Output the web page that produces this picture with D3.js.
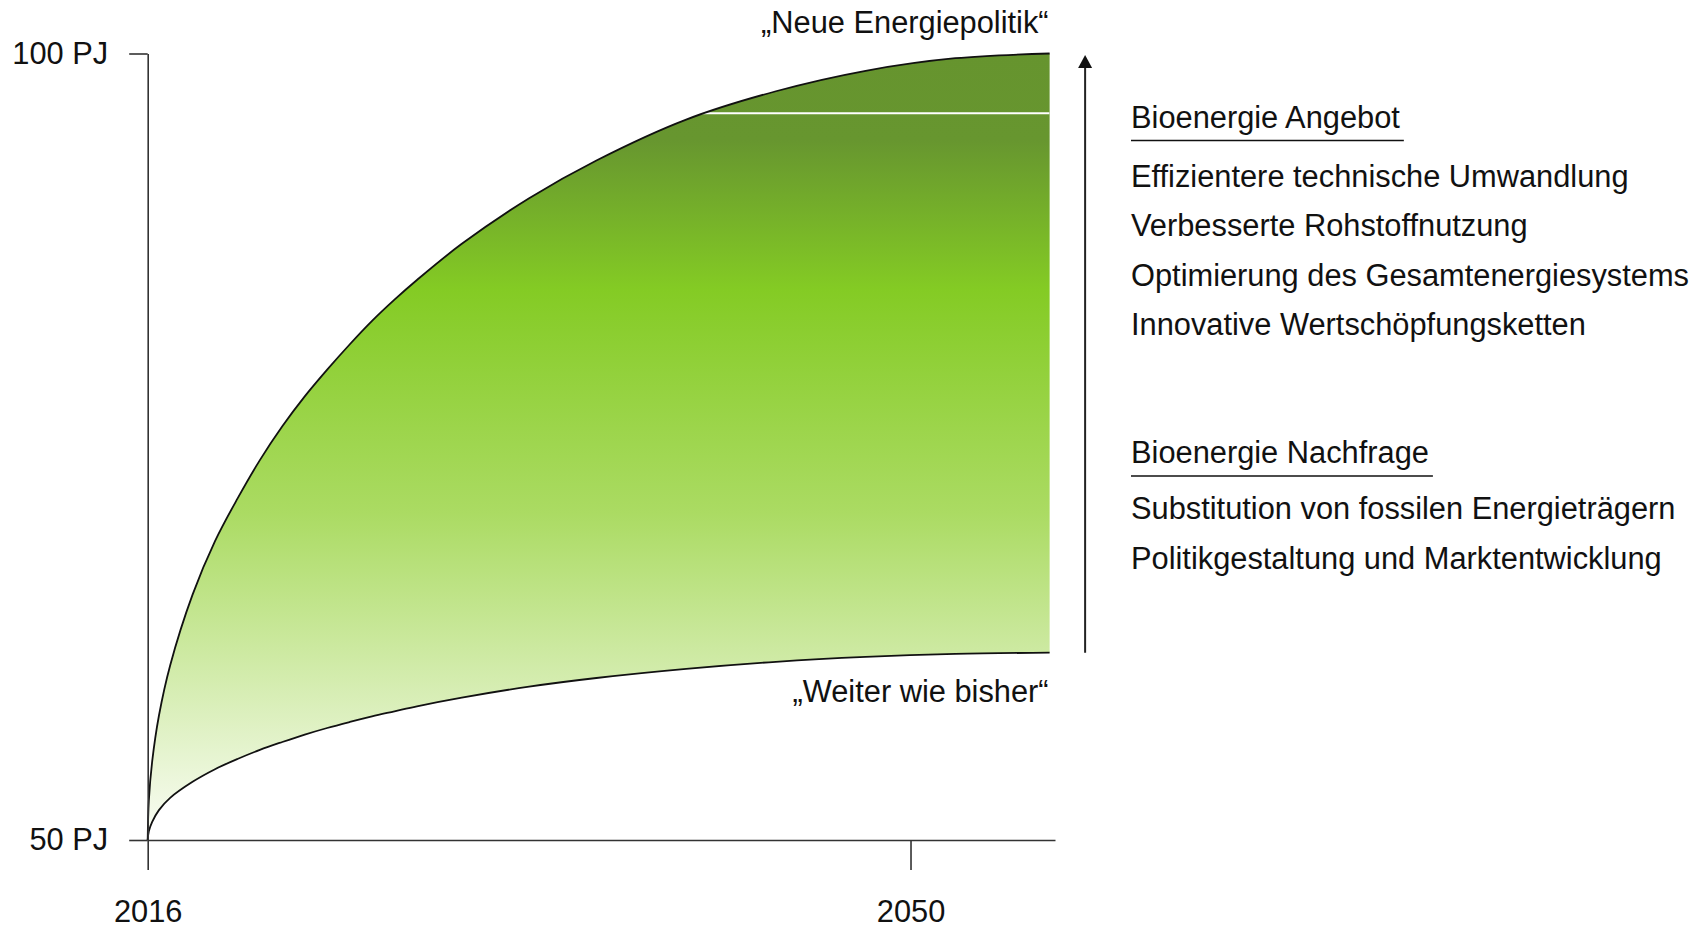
<!DOCTYPE html>
<html>
<head>
<meta charset="utf-8">
<script src="https://cdn.jsdelivr.net/npm/d3@7"></script>
<style>
  html, body { margin: 0; padding: 0; background: #fff; }
  svg { display: block; font-family: "Liberation Sans", Arial, sans-serif; }
</style>
</head>
<body>
<div id="chart"></div>
<script>
// Scenario corridor, values (year -> PJ)
const years = [2016, 2016.05, 2016.2, 2016.5, 2017, 2018, 2019, 2020, 2021, 2022, 2023, 2024,
               2025, 2026, 2027, 2028, 2030, 2033, 2036, 2040, 2044, 2048, 2052, 2056.2];
const neueEnergiepolitik = [50, 52.5, 55.0, 57.9, 61.1, 65.6, 69.0, 71.7, 74.15, 76.3, 78.2, 79.9,
                            81.5, 83.0, 84.35, 85.6, 87.9, 90.8, 93.2, 95.8, 97.6, 98.9, 99.7, 100];
const weiterWieBisher = [50, 50.55, 51.15, 51.9, 52.68, 53.7, 54.5, 55.15, 55.73, 56.23, 56.7, 57.12,
                         57.5, 57.86, 58.18, 58.5, 59.05, 59.75, 60.3, 60.88, 61.33, 61.64, 61.83, 61.91];

const yearTicks = [2016, 2050];
const pjTicks = [50, 100];
const dividerLevel = 96.2;   // thin white line near the top of the band

const angebotTitle = 'Bioenergie Angebot';
const angebotItems = [
  'Effizientere technische Umwandlung',
  'Verbesserte Rohstoffnutzung',
  'Optimierung des Gesamtenergiesystems',
  'Innovative Wertschöpfungsketten'
];
const nachfrageTitle = 'Bioenergie Nachfrage';
const nachfrageItems = [
  'Substitution von fossilen Energieträgern',
  'Politikgestaltung und Marktentwicklung'
];

const width = 1697;
const height = 928;
const fontSize = 30.8;
const ink = '#111';
const axisInk = '#333';

const svg = d3.select('#chart')
  .append('svg')
  .attr('width', width)
  .attr('height', height);

const x = d3.scaleLinear().domain([2016, 2056.44]).range([147.7, 1055]);
const y = d3.scaleLinear().domain([50, 100]).range([840, 53.5]);

const idx = d3.range(years.length);
const endYear = years[years.length - 1];
const curve = d3.curveCatmullRom.alpha(0.5);

// vertical gradient: olive on top, bright green, fading to white
const defs = svg.append('defs');
const grad = defs.append('linearGradient')
  .attr('id', 'bioGrad')
  .attr('gradientUnits', 'userSpaceOnUse')
  .attr('x1', 0).attr('x2', 0)
  .attr('y1', y(100)).attr('y2', y(50));
[
  [0, '#66942e'],
  [0.11, '#67962f'],
  [0.30, '#84cb24'],
  [0.585, '#abdb63'],
  [1, '#fbfdf7']
].forEach(([o, c]) => grad.append('stop').attr('offset', o).attr('stop-color', c));

const area = d3.area()
  .x(i => x(years[i]))
  .y0(i => y(weiterWieBisher[i]))
  .y1(i => y(neueEnergiepolitik[i]))
  .curve(curve);

defs.append('clipPath')
  .attr('id', 'bandClip')
  .append('path')
  .attr('d', area(idx));

svg.append('path')
  .attr('d', area(idx))
  .attr('fill', 'url(#bioGrad)');

// white divider inside the band
svg.append('line')
  .attr('clip-path', 'url(#bandClip)')
  .attr('x1', x(2016)).attr('x2', x(endYear))
  .attr('y1', y(dividerLevel)).attr('y2', y(dividerLevel))
  .attr('stroke', '#fff')
  .attr('stroke-width', 2);

// scenario outlines
const lineOf = series => d3.line()
  .x(i => x(years[i]))
  .y(i => y(series[i]))
  .curve(curve)(idx);

[neueEnergiepolitik, weiterWieBisher].forEach(s => {
  svg.append('path')
    .attr('d', lineOf(s))
    .attr('fill', 'none')
    .attr('stroke', ink)
    .attr('stroke-width', 1.8)
    .attr('stroke-linejoin', 'round');
});

// axes
const xAxis = d3.axisBottom(x)
  .tickValues(yearTicks)
  .tickFormat(d3.format('d'))
  .tickSize(30)
  .tickSizeOuter(0)
  .tickPadding(30.5);

const yAxis = d3.axisLeft(y)
  .tickValues(pjTicks)
  .tickFormat(d => `${d} PJ`)
  .tickSize(18.5)
  .tickSizeOuter(0)
  .tickPadding(21);

function styleAxis(g) {
  g.attr('font-family', null).attr('font-size', null);
  g.selectAll('path, line').attr('stroke', axisInk).attr('stroke-width', 1.6);
  g.selectAll('text').attr('fill', ink).style('font-size', fontSize + 'px');
}

svg.append('g')
  .attr('transform', `translate(0,${y(50)})`)
  .call(xAxis)
  .call(styleAxis);

svg.append('g')
  .attr('transform', `translate(${x(2016)},0)`)
  .call(yAxis)
  .call(styleAxis);

// scenario labels
svg.append('text')
  .attr('x', x(endYear) - 1)
  .attr('y', y(100) - 20.5)
  .attr('text-anchor', 'end')
  .attr('fill', ink)
  .style('font-size', fontSize + 'px')
  .text('\u201ENeue Energiepolitik\u201C');

svg.append('text')
  .attr('x', x(endYear) - 1)
  .attr('y', y(weiterWieBisher[weiterWieBisher.length - 1]) + 49)
  .attr('text-anchor', 'end')
  .attr('fill', ink)
  .style('font-size', fontSize + 'px')
  .text('\u201EWeiter wie bisher\u201C');

// arrow between the two scenario end points
const arrowX = x(endYear) + 35.5;
const arrowTop = y(100) + 1.5;
svg.append('line')
  .attr('x1', arrowX).attr('x2', arrowX)
  .attr('y1', y(weiterWieBisher[weiterWieBisher.length - 1]))
  .attr('y2', arrowTop + 10)
  .attr('stroke', '#222')
  .attr('stroke-width', 2);
svg.append('path')
  .attr('d', `M${arrowX},${arrowTop} L${arrowX - 7},${arrowTop + 13} L${arrowX + 7},${arrowTop + 13} Z`)
  .attr('fill', '#111');

// right-hand text block
const textX = 1131;

function addGroup(title, items, titleY, firstItemY) {
  const t = svg.append('text')
    .attr('x', textX)
    .attr('y', titleY)
    .attr('fill', ink)
    .style('font-size', fontSize + 'px')
    .text(title);
  const w = t.node().getComputedTextLength();
  svg.append('line')
    .attr('x1', textX).attr('x2', textX + w + 4)
    .attr('y1', titleY + 13).attr('y2', titleY + 13)
    .attr('stroke', ink)
    .attr('stroke-width', 1.6);

  svg.selectAll(null)
    .data(items)
    .enter()
    .append('text')
    .attr('x', textX)
    .attr('y', (d, i) => firstItemY + i * 49.6)
    .attr('fill', ink)
    .style('font-size', fontSize + 'px')
    .text(d => d);
}

addGroup(angebotTitle, angebotItems, 127.5, 186.5);
addGroup(nachfrageTitle, nachfrageItems, 463, 519);
</script>
</body>
</html>
